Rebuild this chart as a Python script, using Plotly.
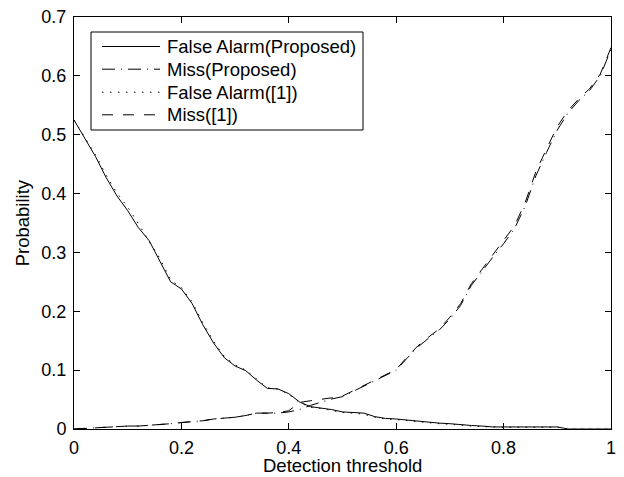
import plotly.graph_objects as go

# ---------------- data ----------------
threshold = [0.00, 0.02, 0.04, 0.06, 0.08, 0.10, 0.12, 0.14, 0.16, 0.18,
             0.20, 0.22, 0.24, 0.26, 0.28, 0.30, 0.32, 0.34, 0.36, 0.38,
             0.40, 0.42, 0.44, 0.46, 0.48, 0.50, 0.52, 0.54, 0.56, 0.58,
             0.60, 0.62, 0.64, 0.66, 0.68, 0.70, 0.72, 0.74, 0.76, 0.78,
             0.80, 0.82, 0.84, 0.86, 0.88, 0.90, 0.92, 0.94, 0.96, 0.98, 1.00]

fa_proposed = [0.525, 0.493, 0.463, 0.427, 0.396, 0.371, 0.342, 0.320, 0.285, 0.250,
               0.238, 0.213, 0.177, 0.146, 0.121, 0.107, 0.099, 0.083, 0.069, 0.068,
               0.060, 0.046, 0.038, 0.036, 0.033, 0.029, 0.028, 0.027, 0.021, 0.018,
               0.017, 0.015, 0.013, 0.012, 0.010, 0.009, 0.007, 0.006, 0.005, 0.0035,
               0.0035, 0.0035, 0.0035, 0.0035, 0.0035, 0.0035, 0.0, 0.0, 0.0, 0.0, 0.0]

miss_proposed = [0.000, 0.001, 0.003, 0.004, 0.004, 0.005, 0.005, 0.006, 0.007, 0.009,
                 0.011, 0.012, 0.014, 0.017, 0.018, 0.020, 0.023, 0.027, 0.027, 0.027,
                 0.029, 0.033, 0.040, 0.046, 0.051, 0.055, 0.064, 0.073, 0.081, 0.090,
                 0.100, 0.120, 0.139, 0.154, 0.168, 0.187, 0.210, 0.244, 0.269, 0.292,
                 0.315, 0.340, 0.378, 0.430, 0.470, 0.508, 0.537, 0.558, 0.575, 0.600, 0.645]

fa_ref = [0.525, 0.495, 0.466, 0.431, 0.401, 0.377, 0.349, 0.318, 0.290, 0.253,
          0.240, 0.216, 0.180, 0.149, 0.123, 0.109, 0.100, 0.085, 0.070, 0.068,
          0.059, 0.045, 0.037, 0.035, 0.031, 0.028, 0.027, 0.025, 0.020, 0.017,
          0.016, 0.014, 0.012, 0.011, 0.009, 0.008, 0.006, 0.005, 0.004, 0.003,
          0.003, 0.003, 0.003, 0.003, 0.003, 0.003, 0.0, 0.0, 0.0, 0.0, 0.0]

miss_ref = [0.000, 0.001, 0.003, 0.004, 0.004, 0.005, 0.005, 0.006, 0.007, 0.009,
            0.011, 0.012, 0.014, 0.017, 0.018, 0.020, 0.023, 0.027, 0.027, 0.028,
            0.031, 0.045, 0.048, 0.050, 0.053, 0.056, 0.065, 0.074, 0.083, 0.092,
            0.101, 0.122, 0.141, 0.156, 0.170, 0.190, 0.213, 0.247, 0.272, 0.296,
            0.320, 0.345, 0.384, 0.437, 0.476, 0.514, 0.541, 0.561, 0.578, 0.603, 0.648]

series_names = ["False Alarm(Proposed)", "Miss(Proposed)", "False Alarm([1])", "Miss([1])"]
series_values = [fa_proposed, miss_proposed, fa_ref, miss_ref]

x_ticks = [0, 0.2, 0.4, 0.6, 0.8, 1]
x_tick_labels = ["0", "0.2", "0.4", "0.6", "0.8", "1"]
y_ticks = [0, 0.1, 0.2, 0.3, 0.4, 0.5, 0.6, 0.7]
y_tick_labels = ["0", "0.1", "0.2", "0.3", "0.4", "0.5", "0.6", "0.7"]

x_title = "Detection threshold"
y_title = "Probability"

# ---------------- styles / layout ----------------
series_dash = ["solid", "13px,6px,1px,6px", "1.5px,6.5px", "11px,10px"]
FONT = "Liberation Sans, Arial, Helvetica, sans-serif"
W, H = 624, 477
ML, MR, MT, MB = 74, 13, 17, 48


def px(xpix):
    return (xpix - ML) / (W - ML - MR)


def py(ypix):
    return (H - MB - ypix) / (H - MT - MB)


fig = go.Figure()
for name, vals, dash in zip(series_names, series_values, series_dash):
    fig.add_trace(go.Scatter(
        x=threshold, y=vals, mode="lines", name=name, showlegend=False,
        line=dict(color="black", width=1, dash=dash),
    ))

axis_common = dict(
    showline=True, linecolor="black", linewidth=1, mirror="ticks",
    ticks="inside", ticklen=6, tickwidth=1, tickcolor="black",
    showgrid=False, zeroline=False, automargin=False,
    tickfont=dict(family=FONT, size=18, color="black"),
)

# MATLAB-style boxed legend (box, line samples, labels)
leg_x0, leg_x1, leg_y0, leg_y1 = 91, 363, 32, 130
row_y = [46.5, 69.2, 92.2, 114.8]
sample_x0, sample_x1, text_x = 102, 160, 165

shapes = [dict(type="rect", xref="paper", yref="paper",
               x0=px(leg_x0), x1=px(leg_x1), y0=py(leg_y1), y1=py(leg_y0),
               line=dict(color="black", width=1), fillcolor="white", layer="above")]
annotations = []
for name, dash, ry in zip(series_names, series_dash, row_y):
    shapes.append(dict(type="line", xref="paper", yref="paper",
                       x0=px(sample_x0), x1=px(sample_x1), y0=py(ry), y1=py(ry),
                       line=dict(color="black", width=1, dash=dash), layer="above"))
    annotations.append(dict(text=name, xref="paper", yref="paper",
                            x=px(text_x), y=py(ry), xanchor="left", yanchor="middle",
                            showarrow=False, font=dict(family=FONT, size=18.5, color="black")))

annotations.append(dict(text=x_title, xref="paper", yref="paper",
                        x=0.5, y=py(465), xanchor="center", yanchor="middle",
                        showarrow=False, font=dict(family=FONT, size=18.5, color="black")))
annotations.append(dict(text=y_title, xref="paper", yref="paper",
                        x=px(22.3), y=0.5, xanchor="center", yanchor="middle",
                        textangle=-90, showarrow=False,
                        font=dict(family=FONT, size=18.5, color="black")))

fig.update_layout(
    width=W, height=H,
    margin=dict(l=ML, r=MR, t=MT, b=MB, autoexpand=False),
    paper_bgcolor="white", plot_bgcolor="white",
    font=dict(family=FONT, size=18, color="black"),
    showlegend=False,
    shapes=shapes,
    annotations=annotations,
    xaxis=dict(range=[0, 1], tickvals=x_ticks, ticktext=x_tick_labels,
               ticklabelstandoff=2, **axis_common),
    yaxis=dict(range=[0, 0.7], tickvals=y_ticks, ticktext=y_tick_labels,
               ticklabelstandoff=3, **axis_common),
)

fig.write_html("out.html",
               config={"displayModeBar": False},
               post_script="document.body.style.margin='0';document.body.style.padding='0';")
